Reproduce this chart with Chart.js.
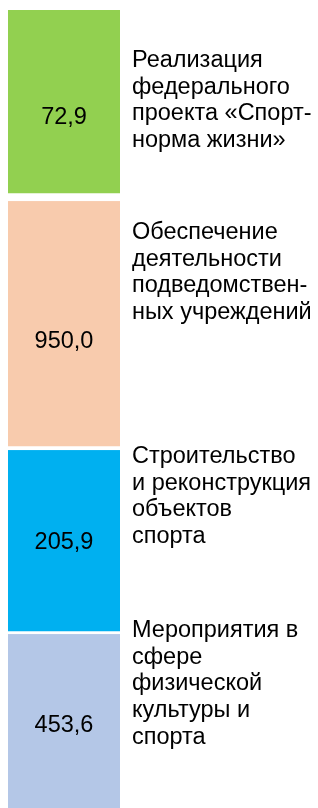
<!DOCTYPE html>
<html>
<head>
<meta charset="utf-8">
<script src="https://cdn.jsdelivr.net/npm/chart.js@4/dist/chart.umd.min.js"></script>
<style>
    body { margin: 0; background: #fff; }
    #wrap { width: 318px; height: 808px; position: relative; }
</style>
</head>
<body>
<div id="wrap"><canvas id="grafico"></canvas></div>
<script>
// направления расходов, сверху вниз
const categorias = [
    ['Реализация', 'федерального', 'проекта «Спорт-', 'норма жизни»'],
    ['Обеспечение', 'деятельности', 'подведомствен-', 'ных учреждений'],
    ['Строительство', 'и реконструкция', 'объектов', 'спорта'],
    ['Мероприятия в', 'сфере', 'физической', 'культуры и', 'спорта']
];
// суммы, подписанные на блоках
const importes = [72.9, 950.0, 205.9, 453.6];
// условная высота блоков на схеме (не пропорциональна суммам)
const bloques = [191, 249, 184, 174];
const colores = ['#92D050', '#F8CBAD', '#00B0F0', '#B4C7E7'];

// отступы подписей (стиль, не данные)
const huecos = [8, 4, 3, 0];
const despValor = [16, 18, 2, 5];
const despTexto = [57, 38, 13, 3];
const interlineado = 26.7;
const fuente = '23.5px "Liberation Sans", Arial, sans-serif';

const etiquetasPlugin = {
    id: 'etiquetas',
    afterDatasetsDraw(chart) {
        const ctx = chart.ctx;
        ctx.save();
        ctx.fillStyle = '#000';
        ctx.font = fuente;
        chart.data.datasets.forEach((ds, i) => {
            const bar = chart.getDatasetMeta(i).data[0];
            const { x, y, base } = bar.getProps(['x', 'y', 'base'], true);
            const top = Math.min(y, base);
            const bottom = Math.max(y, base) - huecos[i];

            ctx.textAlign = 'center';
            ctx.textBaseline = 'middle';
            const valor = importes[i].toFixed(1).replace('.', ',');
            ctx.fillText(valor, x, (top + bottom) / 2 + despValor[i]);

            ctx.textAlign = 'left';
            ctx.textBaseline = 'alphabetic';
            categorias[i].forEach((linea, j) => {
                ctx.fillText(linea, 132, top + despTexto[i] + j * interlineado);
            });
        });
        ctx.restore();
    }
};

new Chart(document.getElementById('grafico').getContext('2d'), {
    type: 'bar',
    data: {
        labels: [''],
        datasets: bloques.map((v, i) => ({
            label: categorias[i].join(' '),
            data: [v],
            backgroundColor: colores[i],
            borderColor: '#ffffff',
            borderWidth: { top: 0, left: 0, right: 0, bottom: huecos[i] },
            borderSkipped: false,
            barPercentage: 1,
            categoryPercentage: 1
        }))
    },
    options: {
        responsive: true,
        maintainAspectRatio: false,
        devicePixelRatio: 1,
        animation: false,
        layout: { padding: { top: 10, left: 8, right: 198, bottom: 0 } },
        plugins: {
            legend: { display: false },
            tooltip: { enabled: false }
        },
        scales: {
            x: { display: false, stacked: true },
            y: {
                display: false,
                stacked: true,
                reverse: true,
                min: 0,
                max: bloques.reduce((a, b) => a + b, 0)
            }
        }
    },
    plugins: [etiquetasPlugin]
});
</script>
</body>
</html>
